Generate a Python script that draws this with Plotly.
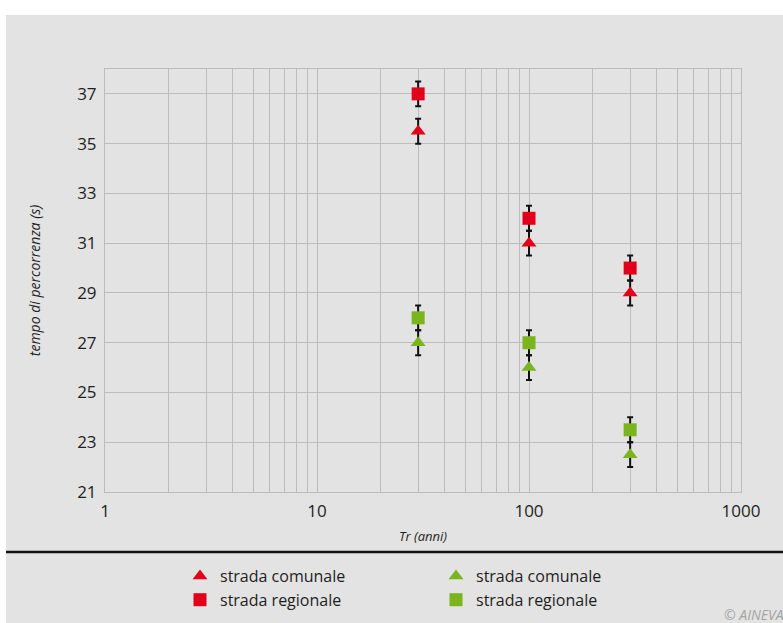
import plotly.graph_objects as go

# Return periods (years) and travel times (s)
tr_anni = [30, 100, 300]
rosso_comunale = [35.5, 31.0, 29.0]
rosso_regionale = [37.0, 32.0, 30.0]
verde_comunale = [27.0, 26.0, 22.5]
verde_regionale = [28.0, 27.0, 23.5]
errore = [0.5, 0.5, 0.5]

y_ticks = [21, 23, 25, 27, 29, 31, 33, 35, 37]
x_grid = [m * 10 ** d for d in range(3) for m in range(1, 10)] + [1000]
x_labels = [str(v) if v in (1, 10, 100, 1000) else "" for v in x_grid]

ROSSO = "#e3001b"
VERDE = "#7ab51d"
SFONDO = "#e2e3e2"
GRIGLIA = "#bcbcbc"
TESTO = "#1e1e1e"
FONT = "Open Sans"

# plot area in pixels
L, R, T, B = 105, 741, 69, 492
W, H = 783, 623


def px_x(p):
    return (p - L) / (R - L)


def px_y(p):
    return (B - p) / (B - T)


fig = go.Figure()

serie = [
    ("strada comunale", rosso_comunale, ROSSO, "triangle-up", "legend"),
    ("strada regionale", rosso_regionale, ROSSO, "square", "legend"),
    ("strada comunale", verde_comunale, VERDE, "triangle-up", "legend2"),
    ("strada regionale", verde_regionale, VERDE, "square", "legend2"),
]
for nome, valori, colore, simbolo, leg in serie:
    fig.add_trace(go.Scatter(
        x=tr_anni, y=valori, mode="markers", name=nome, legend=leg,
        marker=dict(symbol=simbolo, size=13, color=colore, line=dict(width=0)),
        error_y=dict(type="data", array=errore, color="#111111",
                     thickness=2, width=3),
    ))

fig.update_xaxes(
    type="log", range=[0, 3], tickvals=x_grid, ticktext=x_labels,
    showgrid=True, gridcolor=GRIGLIA, gridwidth=1,
    showline=True, linecolor=GRIGLIA, mirror=True, zeroline=False,
    ticks="outside", ticklen=4, tickcolor="rgba(0,0,0,0)",
    tickfont=dict(size=17, color=TESTO, family=FONT),
    title=dict(text="<i>Tr (anni)</i>", font=dict(size=13, color=TESTO, family=FONT),
               standoff=10),
)
fig.update_yaxes(
    range=[21, 38], tickvals=y_ticks,
    showgrid=True, gridcolor=GRIGLIA, gridwidth=1,
    showline=True, linecolor=GRIGLIA, mirror=True, zeroline=False,
    ticks="outside", ticklen=4, tickcolor="rgba(0,0,0,0)",
    tickfont=dict(size=17, color=TESTO, family=FONT),
    title=dict(text="<i>tempo di percorrenza (s)</i>",
               font=dict(size=14, color=TESTO, family=FONT), standoff=33),
)

leg_style = dict(
    font=dict(size=16, color=TESTO, family=FONT),
    bgcolor="rgba(0,0,0,0)", orientation="v",
    xanchor="left", yanchor="top", itemwidth=30, tracegroupgap=0,
)
fig.update_layout(
    width=W, height=H,
    margin=dict(l=L, r=W - R, t=T, b=H - B, autoexpand=False),
    paper_bgcolor=SFONDO, plot_bgcolor=SFONDO,
    showlegend=True,
    legend=dict(x=px_x(180), y=px_y(559), **leg_style),
    legend2=dict(x=px_x(436), y=px_y(559), **leg_style),
    shapes=[
        # white margin above and left of the grey panel
        dict(type="rect", xref="paper", yref="paper", x0=-0.2, x1=1.2,
             y0=px_y(15), y1=1.3, fillcolor="white", line_width=0, layer="above"),
        dict(type="rect", xref="paper", yref="paper", x0=-0.2, x1=px_x(6),
             y0=-0.4, y1=1.3, fillcolor="white", line_width=0, layer="above"),
        # separator above the legend
        dict(type="line", xref="paper", yref="paper", x0=px_x(6), x1=1.2,
             y0=px_y(552), y1=px_y(552),
             line=dict(color="#111111", width=2.5)),
    ],
    annotations=[
        dict(text="<i>© AINEVA</i>", xref="paper", yref="paper",
             x=px_x(722), y=px_y(615), xanchor="left", yanchor="middle",
             showarrow=False, font=dict(size=14, color="#a4a4a4", family=FONT)),
    ],
)

fig.write_html("out.html")
